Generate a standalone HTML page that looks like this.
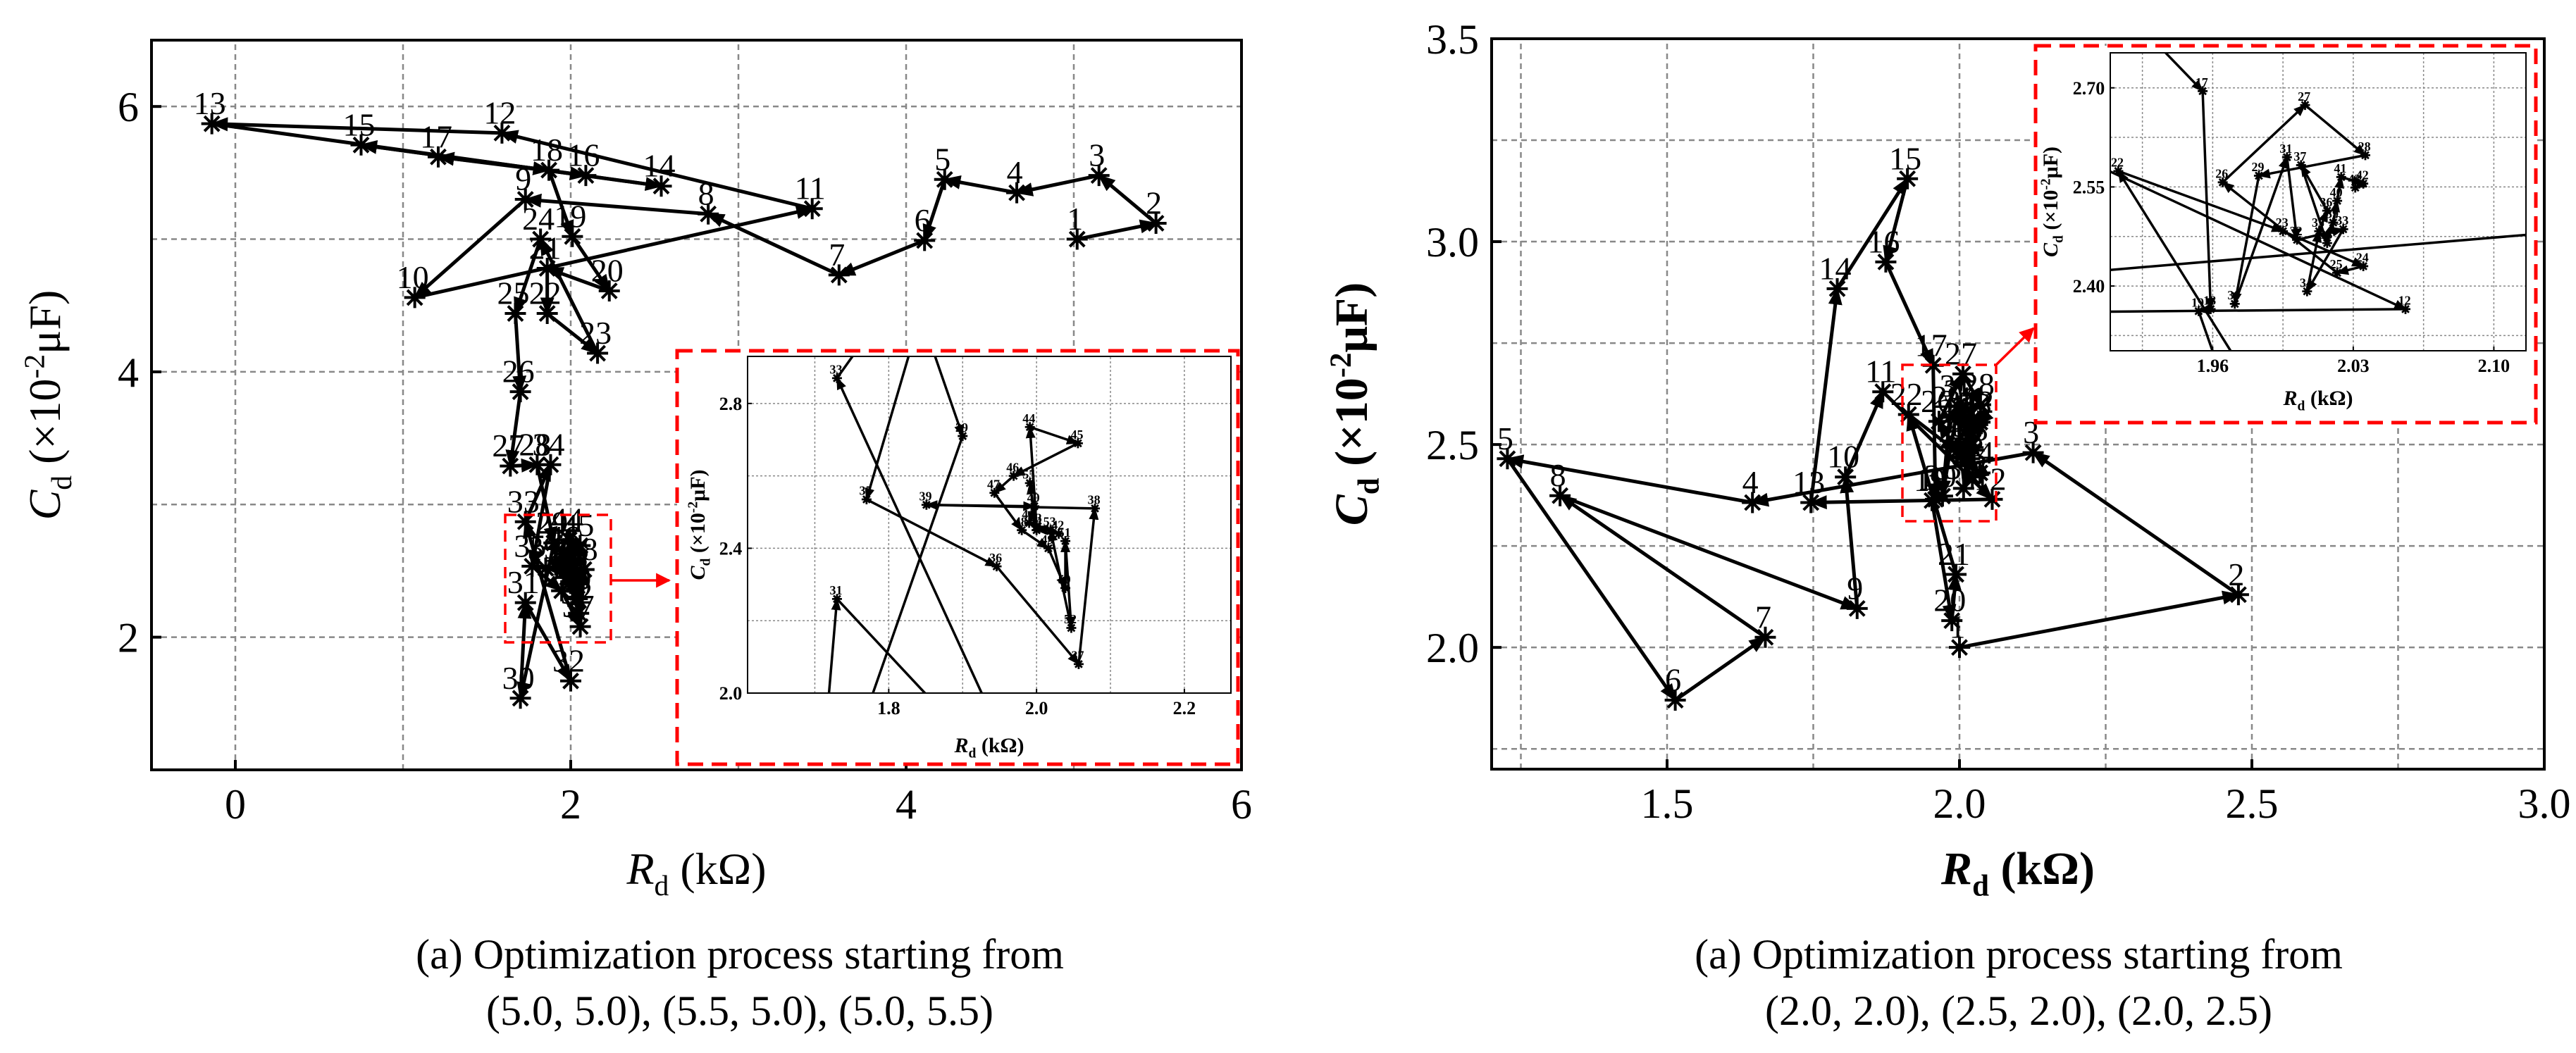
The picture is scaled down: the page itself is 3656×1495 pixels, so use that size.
<!DOCTYPE html>
<html><head><meta charset="utf-8">
<style>
html,body{margin:0;padding:0;background:#fff;}
svg{display:block;}
text{font-family:"Liberation Serif",serif;}
</style></head>
<body>
<svg id="root" width="3656" height="1495" viewBox="0 0 3656 1495" xmlns="http://www.w3.org/2000/svg">
<defs>
<marker id="arr" viewBox="0 0 10 10" refX="9" refY="5" markerWidth="5" markerHeight="5" orient="auto" markerUnits="strokeWidth"><path d="M0,1 L10,5 L0,9 z" fill="#000"/></marker>
<marker id="arrR" viewBox="0 0 10 10" refX="9" refY="5" markerWidth="6" markerHeight="6" orient="auto" markerUnits="strokeWidth"><path d="M0,0 L10,5 L0,10 z" fill="#f00"/></marker>
</defs>
</svg>
<script>
// ---------- data ----------
const leftX = [5.02,5.49,5.15,4.66,4.23,4.11,3.60,2.82,1.73,1.07,3.44,1.59,-0.14,2.54,0.75,2.09,1.21,1.87,2.01,2.23,1.86,1.86,2.16,1.82,1.67,1.70,1.64,1.80,1.90,1.70,1.73,2.00,1.73,1.88,1.77,1.946,2.057,2.079,1.851,1.997,1.99,2.03,2.00,1.991,2.056,1.969,1.943,1.98,2.016,2.039,2.039,2.047,2.019,2.00,1.991];
const leftY = [5.00,5.12,5.48,5.35,5.45,4.99,4.73,5.19,5.30,4.56,5.23,5.80,5.87,5.40,5.71,5.48,5.62,5.52,5.02,4.61,4.78,4.44,4.14,5.00,4.44,3.85,3.29,3.30,2.71,1.54,2.26,1.67,2.87,3.30,2.535,2.35,2.08,2.51,2.52,2.516,2.47,2.44,2.46,2.735,2.69,2.60,2.553,2.45,2.40,2.29,2.42,2.18,2.45,2.45,2.58];
const rightX = [2.0,2.477,2.126,1.646,1.227,1.514,1.668,1.317,1.825,1.805,1.869,2.056,1.746,1.791,1.911,1.874,1.955,1.959,1.953,1.987,1.994,1.913,1.995,2.035,2.022,1.965,2.006,2.036,1.983,1.971,1.997,2.002,2.025,2.007,2.013,2.017,2.004,2.017,2.020,2.022,2.024,2.035,2.031];
const rightY = [2.0,2.13,2.48,2.357,2.465,1.87,2.025,2.374,2.096,2.42,2.63,2.365,2.357,2.884,3.155,2.95,2.695,2.365,2.362,2.066,2.18,2.574,2.483,2.43,2.42,2.557,2.674,2.598,2.567,2.373,2.595,2.47,2.486,2.392,2.483,2.514,2.583,2.465,2.496,2.529,2.565,2.555,2.549];
const leftXTicks = [0,2,4,6];
const leftYTicks = [2,4,6];
const leftInXTicks = [1.8,2.0,2.2];
const leftInYTicks = [2.0,2.4,2.8];
const rightXTicks = [1.5,2.0,2.5,3.0];
const rightYTicks = [2.0,2.5,3.0,3.5];
const rightInXTicks = [1.96,2.03,2.10];
const rightInYTicks = [2.40,2.55,2.70];

const NS = "http://www.w3.org/2000/svg";
const root = document.getElementById('root');
function mk(tag, attrs, parent){
  const e = document.createElementNS(NS, tag);
  for (const k in attrs) e.setAttribute(k, attrs[k]);
  (parent||root).appendChild(e);
  return e;
}
function axis(x0,x1,px0,px1){return v => px0 + (v-x0)/(x1-x0)*(px1-px0);}

let clipN = 0;
function panel(o){
  const g = mk('g', {});
  
  
  const sx = axis(o.xr[0],o.xr[1],o.px[0],o.px[1]);
  const sy = axis(o.yr[0],o.yr[1],o.py[0],o.py[1]);
  if (o.bg) mk('rect',{x:o.px[0],y:o.py[1],width:o.px[1]-o.px[0],height:o.py[0]-o.py[1],fill:'#fff'},g);
  const gg = mk('g',{},g);
  
  
  for (let v=o.gx[0]; v<=o.gx[1]+1e-9; v+=o.gx[2]){
    const X = sx(v); if (X<=o.px[0]+1||X>=o.px[1]-1) continue;
    mk('line',{x1:X,x2:X,y1:o.py[0],y2:o.py[1],stroke:'#888','stroke-width':o.gw,'stroke-dasharray':o.gd},gg);
  }
  for (let v=o.gy[0]; v<=o.gy[1]+1e-9; v+=o.gy[2]){
    const Y = sy(v); if (Y>=o.py[0]-1||Y<=o.py[1]+1) continue;
    mk('line',{x1:o.px[0],x2:o.px[1],y1:Y,y2:Y,stroke:'#888','stroke-width':o.gw,'stroke-dasharray':o.gd},gg);
  }
  const cid = 'clip'+(clipN++);
  const cp = mk('clipPath',{id:cid},g);
  mk('rect',{x:o.px[0],y:o.py[1],width:o.px[1]-o.px[0],height:o.py[0]-o.py[1]},cp);
  const sg = mk('g',{'clip-path':'url(#'+cid+')'},g);
  
  
  for (let i=1;i<o.X.length;i++){
    const l = mk('line',{x1:sx(o.X[i-1]),y1:sy(o.Y[i-1]),x2:sx(o.X[i]),y2:sy(o.Y[i]),stroke:'#000','stroke-width':o.lw,'marker-end':'url(#arr)'},sg);
    
    
  }
  for (let i=0;i<o.X.length;i++){
    const X=sx(o.X[i]), Y=sy(o.Y[i]), r=o.ms;
    const m = mk('path',{d:`M${X-r},${Y}H${X+r}M${X},${Y-r}V${Y+r}M${X-r*0.7},${Y-r*0.7}L${X+r*0.7},${Y+r*0.7}M${X-r*0.7},${Y+r*0.7}L${X+r*0.7},${Y-r*0.7}`,stroke:'#000','stroke-width':o.lw*0.8,fill:'none'},sg);
    
    
    const t = mk('text',{x:X-o.ms*0.2,y:Y-o.ms*0.9,'font-size':o.lfs,'text-anchor':'middle','font-weight':o.lbold?'bold':'normal'},sg);
    
    
    t.textContent = String(i+1);
  }
  mk('rect',{x:o.px[0],y:o.py[1],width:o.px[1]-o.px[0],height:o.py[0]-o.py[1],fill:'none',stroke:'#000','stroke-width':o.fw},g);
  o.xt.forEach(v=>{
    const X=sx(v);
    mk('line',{x1:X,x2:X,y1:o.py[0],y2:o.py[0]-o.tl,stroke:'#000','stroke-width':o.fw},g);
    const t=mk('text',{x:X,y:o.py[0]+o.tfs*1.15,'font-size':o.tfs,'text-anchor':'middle','font-weight':o.tbold?'bold':'normal'},g);
    
    
    t.textContent = v.toFixed(o.xd);
  });
  o.yt.forEach(v=>{
    const Y=sy(v);
    mk('line',{x1:o.px[0],x2:o.px[0]+o.tl,y1:Y,y2:Y,stroke:'#000','stroke-width':o.fw},g);
    const t=mk('text',{x:o.px[0]-o.tfs*0.3,y:Y+o.tfs*0.35,'font-size':o.tfs,'text-anchor':'end','font-weight':o.tbold?'bold':'normal'},g);
    
    
    t.textContent = v.toFixed(o.yd);
  });
  const xt = mk('text',{x:(o.px[0]+o.px[1])/2,y:o.xty,'font-size':o.afs,'text-anchor':'middle','font-weight':o.abold?'bold':'normal'},g);
  
  
  xt.innerHTML = '<tspan font-style="italic">R</tspan><tspan font-size="'+(o.afs*0.65)+'" dy="'+(o.afs*0.25)+'">d</tspan><tspan dy="'+(-o.afs*0.25)+'"> (kΩ)</tspan>';
  const cy=(o.py[0]+o.py[1])/2;
  const yt = mk('text',{x:o.ytx,y:cy,'font-size':o.afs,'text-anchor':'middle','font-weight':o.abold?'bold':'normal',transform:`rotate(-90 ${o.ytx} ${cy})`},g);
  
  
  yt.innerHTML = '<tspan font-style="italic">C</tspan><tspan font-size="'+(o.afs*0.65)+'" dy="'+(o.afs*0.25)+'">d</tspan><tspan dy="'+(-o.afs*0.25)+'"> (×10</tspan><tspan font-size="'+(o.afs*0.65)+'" dy="'+(-o.afs*0.35)+'">-2</tspan><tspan dy="'+(o.afs*0.35)+'">μF)</tspan>';
  return g;
}

panel({name:'left-chart',X:leftX,Y:leftY,xr:[-0.5,6],yr:[1,6.5],px:[215,1762],py:[1093,57],gx:[0,6,1],gy:[1,6.5,1],gw:2.5,gd:'8,6',
  lw:5,ms:15,lfs:46,xt:leftXTicks,yt:leftYTicks,xd:0,yd:0,tfs:60,tl:14,fw:4,afs:64,xty:1255,ytx:85});
mk('rect',{x:961,y:498,width:796,height:587,fill:'#fff',stroke:'#f00','stroke-width':5,'stroke-dasharray':'22,12'});
panel({name:'left-inset',X:leftX,Y:leftY,xr:[1.609,2.263],yr:[2.0,2.93],px:[1061,1747],py:[984,506],gx:[1.7,2.2,0.1],gy:[2.0,2.8,0.2],gw:1.5,gd:'3,3',
  lw:3.5,ms:7,lfs:18,lbold:true,xt:leftInXTicks,yt:leftInYTicks,xd:1,yd:1,tfs:26,tbold:true,tl:6,fw:2,afs:30,abold:true,xty:1068,ytx:1000,bg:true});
mk('rect',{x:717,y:731,width:150,height:181,fill:'none',stroke:'#f00','stroke-width':3.5,'stroke-dasharray':'16,10'});
mk('line',{x1:867,y1:824,x2:950,y2:824,stroke:'#f00','stroke-width':3.5,'marker-end':'url(#arrR)'});

panel({name:'right-chart',X:rightX,Y:rightY,xr:[1.2,3.0],yr:[1.7,3.5],px:[2117,3611],py:[1092,55],gx:[1.25,3.0,0.25],gy:[1.75,3.5,0.25],gw:2.5,gd:'8,6',
  lw:5,ms:15,lfs:46,xt:rightXTicks,yt:rightYTicks,xd:1,yd:1,tfs:60,tl:14,fw:4,afs:66,abold:true,xty:1255,ytx:1940});
mk('rect',{x:2889,y:65,width:710,height:535,fill:'#fff',stroke:'#f00','stroke-width':5,'stroke-dasharray':'22,12'});
panel({name:'right-inset',X:rightX,Y:rightY,xr:[1.909,2.116],yr:[2.302,2.753],px:[2995,3585],py:[498,75],gx:[1.925,2.1,0.035],gy:[2.325,2.75,0.075],gw:1.5,gd:'3,3',
  lw:3.5,ms:7,lfs:18,lbold:true,xt:rightInXTicks,yt:rightInYTicks,xd:2,yd:2,tfs:26,tbold:true,tl:6,fw:2,afs:30,abold:true,xty:575,ytx:2920,bg:true});
mk('rect',{x:2700,y:518,width:133,height:222,fill:'none',stroke:'#f00','stroke-width':3.5,'stroke-dasharray':'16,10'});
mk('line',{x1:2833,y1:518,x2:2886,y2:466,stroke:'#f00','stroke-width':3.5,'marker-end':'url(#arrR)'});

[[1050,'(a) Optimization process starting from','(5.0, 5.0), (5.5, 5.0), (5.0, 5.5)','left-caption'],
 [2865,'(a) Optimization process starting from','(2.0, 2.0), (2.5, 2.0), (2.0, 2.5)','right-caption']].forEach(c=>{
  const t=mk('text',{x:c[0],y:1375,'font-size':60,'text-anchor':'middle'});
  
  
  t.textContent=c[1];
  const t2=mk('text',{x:c[0],y:1455,'font-size':60,'text-anchor':'middle'});
  
  
  t2.textContent=c[2];
});
</script>
</body></html>
